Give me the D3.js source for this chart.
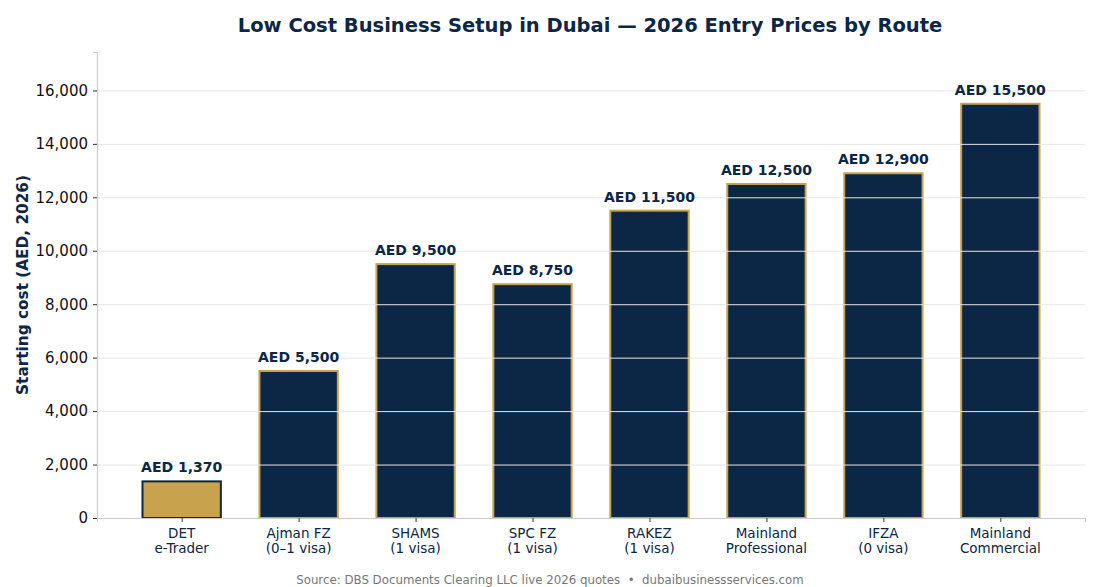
<!DOCTYPE html>
<html>
<head>
<meta charset="utf-8">
<script src="https://cdn.jsdelivr.net/npm/d3@7"></script>
<style>
  body { margin: 0; background: #fff; }
  text { font-family: "DejaVu Sans", sans-serif; }
</style>
</head>
<body>
<div id="chart"></div>
<script>
// Dades
const routes = ['DET\ne-Trader', 'Ajman FZ\n(0–1 visa)', 'SHAMS\n(1 visa)', 'SPC FZ\n(1 visa)', 'RAKEZ\n(1 visa)', 'Mainland\nProfessional', 'IFZA\n(0 visa)', 'Mainland\nCommercial'];
const prices = [1370, 5500, 9500, 8750, 11500, 12500, 12900, 15500];
const yTicks = [0, 2000, 4000, 6000, 8000, 10000, 12000, 14000, 16000];

const navy = '#0c2645';
const gold = '#c9a24e';

const W = 1100, H = 587;
const margin = { top: 52, right: 15, bottom: 69, left: 97 };
const width = W - margin.left - margin.right;
const height = H - margin.top - margin.bottom;

const svg = d3.select('#chart').append('svg')
    .attr('width', W).attr('height', H);

const g = svg.append('g')
    .attr('transform', `translate(${margin.left},${margin.top})`);

// Escales
const barW = 0.67;
const x = d3.scaleLinear()
    .domain([-0.724, routes.length - 1 + 0.724])
    .range([0, width]);
const y = d3.scaleLinear()
    .domain([0, d3.max(prices) * 1.125])
    .range([height, 0]);

const fmt = d3.format(',');

// Barres
g.selectAll('.bar')
    .data(prices)
    .enter().append('rect')
    .attr('x', (d, i) => x(i - barW / 2))
    .attr('width', x(barW) - x(0))
    .attr('y', d => y(d))
    .attr('height', d => y(0) - y(d))
    .attr('fill', (d, i) => i === 0 ? gold : navy)
    .attr('stroke', (d, i) => i === 0 ? navy : gold)
    .attr('stroke-width', 2);

// Graella (per sobre de les barres)
g.selectAll('.grid')
    .data(yTicks)
    .enter().append('line')
    .attr('x1', 0).attr('x2', width)
    .attr('y1', d => y(d) + 0.5).attr('y2', d => y(d) + 0.5)
    .attr('stroke', '#e6e6e6')
    .attr('stroke-width', 1);

// Etiquetes de valor
g.selectAll('.val')
    .data(prices)
    .enter().append('text')
    .attr('x', (d, i) => x(i))
    .attr('y', d => y(d) - 9)
    .attr('text-anchor', 'middle')
    .attr('font-size', '14px')
    .attr('font-weight', 'bold')
    .attr('fill', navy)
    .text(d => `AED ${fmt(d)}`);

// Eix Y
const yAxis = g.append('g')
    .call(d3.axisLeft(y).tickValues(yTicks).tickFormat(fmt).tickSize(4).tickPadding(5));
yAxis.select('.domain').attr('stroke', '#cccccc').attr('stroke-width', 1.2);
yAxis.selectAll('.tick line').attr('stroke', '#333');
yAxis.selectAll('.tick text').attr('font-size', '15px').attr('fill', '#111')
    .attr('font-family', '"DejaVu Sans", sans-serif');

// Eix X
const xAxis = g.append('g')
    .attr('transform', `translate(0,${height})`)
    .call(d3.axisBottom(x).tickValues(d3.range(routes.length)).tickFormat('').tickSize(4));
xAxis.select('.domain').attr('stroke', '#cccccc').attr('stroke-width', 1.2);
xAxis.selectAll('.tick line').attr('stroke', '#333');

const xLabels = g.selectAll('.xlab')
    .data(routes)
    .enter().append('text')
    .attr('x', (d, i) => x(i))
    .attr('y', height + 20)
    .attr('text-anchor', 'middle')
    .attr('font-size', '13.5px')
    .attr('fill', navy);
xLabels.each(function (d) {
    const t = d3.select(this);
    d.split('\n').forEach((line, k) => {
        t.append('tspan').attr('x', t.attr('x')).attr('dy', k === 0 ? 0 : 15).text(line);
    });
});

// Títol de l'eix Y
svg.append('text')
    .attr('transform', 'rotate(-90)')
    .attr('x', -(margin.top + height / 2))
    .attr('y', 28)
    .attr('text-anchor', 'middle')
    .attr('font-size', '15.3px')
    .attr('font-weight', 'bold')
    .attr('fill', navy)
    .text('Starting cost (AED, 2026)');

// Títol
svg.append('text')
    .attr('x', 590)
    .attr('y', 32)
    .attr('text-anchor', 'middle')
    .attr('font-size', '19.5px')
    .attr('font-weight', 'bold')
    .attr('fill', navy)
    .text('Low Cost Business Setup in Dubai — 2026 Entry Prices by Route');

// Font
svg.append('text')
    .attr('x', 550)
    .attr('y', 584)
    .attr('text-anchor', 'middle')
    .attr('font-size', '11.8px')
    .attr('fill', '#777')
    .style('white-space', 'pre')
    .text('Source: DBS Documents Clearing LLC live 2026 quotes  •  dubaibusinessservices.com');
</script>
</body>
</html>
